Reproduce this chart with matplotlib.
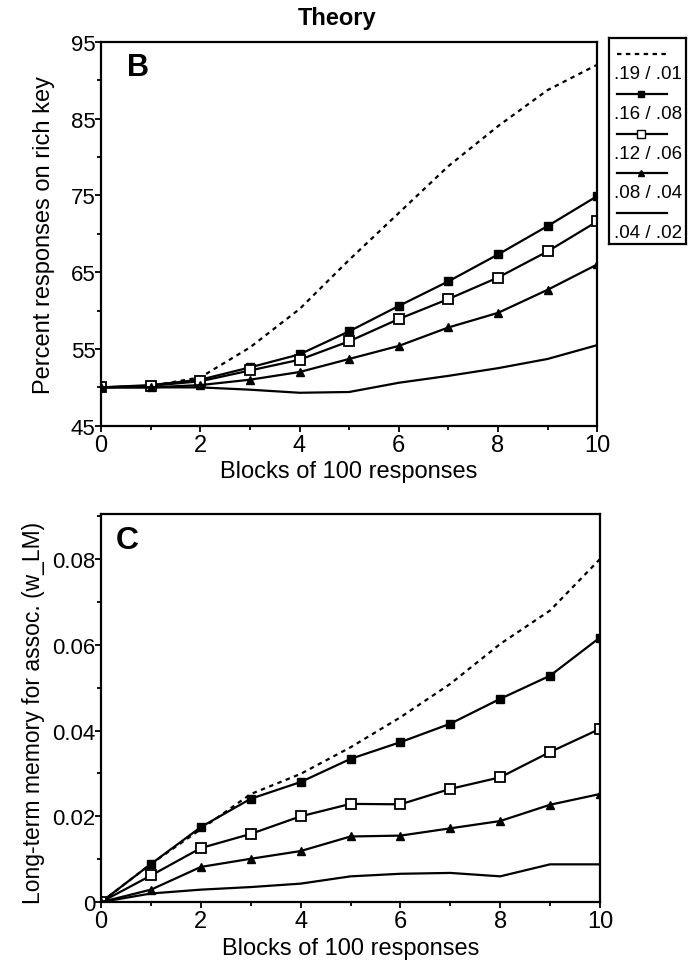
import numpy as np
from matplotlib import pyplot as plt
from matplotlib.ticker import MultipleLocator

plt.rcParams['font.family'] = ['Liberation Sans Narrow', 'Liberation Sans', 'DejaVu Sans']

blocks = np.arange(11)
labels = ['.19 / .01', '.16 / .08', '.12 / .06', '.08 / .04', '.04 / .02']

# panel B: percent responses on rich key
pct_19 = [50, 50.2, 51.3, 55.2, 60.2, 66.6, 72.7, 78.8, 84.0, 88.7, 92.0]
pct_16 = [50, 50.3, 51.0, 52.6, 54.3, 57.3, 60.6, 63.8, 67.3, 71.0, 74.9]
pct_12 = [50, 50.2, 50.8, 52.2, 53.6, 56.0, 58.9, 61.5, 64.3, 67.7, 71.6]
pct_08 = [50, 50.0, 50.3, 51.0, 52.0, 53.7, 55.4, 57.8, 59.7, 62.7, 66.0]
pct_04 = [50, 50.0, 50.0, 49.7, 49.3, 49.4, 50.6, 51.5, 52.5, 53.7, 55.5]
pct_ticks = [45, 55, 65, 75, 85, 95]

# panel C: long-term memory weight
wlm_19 = [0, 0.0089, 0.0170, 0.0252, 0.0299, 0.0361, 0.0431, 0.0509, 0.0602, 0.0680, 0.0800]
wlm_16 = [0, 0.0089, 0.0175, 0.0241, 0.0280, 0.0334, 0.0373, 0.0416, 0.0474, 0.0528, 0.0617]
wlm_12 = [0, 0.0062, 0.0126, 0.0159, 0.0200, 0.0229, 0.0228, 0.0264, 0.0291, 0.0350, 0.0404]
wlm_08 = [0, 0.0029, 0.0082, 0.0101, 0.0119, 0.0153, 0.0155, 0.0172, 0.0189, 0.0227, 0.0252]
wlm_04 = [0, 0.0020, 0.0029, 0.0035, 0.0043, 0.0060, 0.0066, 0.0068, 0.0060, 0.0088, 0.0088]
wlm_ticks = [0, 0.02, 0.04, 0.06, 0.08]
wlm_ticklabels = ['0', '0.02', '0.04', '0.06', '0.08']

styles = [
    dict(ls=(0, (2, 2)), marker=None),
    dict(ls='-', marker='s', mfc='black', ms=6),
    dict(ls='-', marker='s', mfc='white', ms=7, mew=1.3),
    dict(ls='-', marker='^', mfc='black', ms=6),
    dict(ls='-', marker=None),
]

fig = plt.figure(figsize=(6.88, 9.70), dpi=100)
axB = fig.add_axes([0.147, 0.560, 0.721, 0.396])
axC = fig.add_axes([0.147, 0.069, 0.725, 0.400])


def draw(ax, series):
    for ys, st in zip(series, styles):
        ax.plot(blocks, ys, color='black', lw=1.6, mec='black', **st)
    ax.set_xlim(0, 10)
    ax.xaxis.set_major_locator(MultipleLocator(2))
    ax.xaxis.set_minor_locator(MultipleLocator(1))
    ax.tick_params(which='both', direction='out', width=1.3, labelsize=16)
    ax.tick_params(axis='x', pad=2, labelsize=17)
    ax.tick_params(axis='y', pad=0)
    ax.tick_params(which='major', length=4)
    ax.tick_params(which='minor', length=3)
    for sp in ax.spines.values():
        sp.set_linewidth(1.6)
    ax.set_xlabel('Blocks of 100 responses', fontsize=17, labelpad=3)


draw(axB, [pct_19, pct_16, pct_12, pct_08, pct_04])
axB.set_ylim(45, 95)
axB.set_yticks(pct_ticks)
axB.yaxis.set_minor_locator(MultipleLocator(5))
axB.set_ylabel('Percent responses on rich key', fontsize=17)
axB.yaxis.set_label_coords(-0.093, 0.5)
axB.text(0.052, 0.934, 'B', transform=axB.transAxes, fontsize=22, fontweight='bold', va='center')
fig.text(337 / 688, 1 - 19 / 970, 'Theory', fontsize=17, fontweight='bold', ha='center', va='center')

draw(axC, [wlm_19, wlm_16, wlm_12, wlm_08, wlm_04])
axC.set_ylim(0, 0.0905)
axC.yaxis.set_minor_locator(MultipleLocator(0.01))
axC.set_yticks(wlm_ticks)
axC.set_yticklabels(wlm_ticklabels)
axC.set_ylabel('Long-term memory for assoc. (w_LM)', fontsize=16.5)
axC.yaxis.set_label_coords(-0.112, 0.49)
axC.text(0.03, 0.934, 'C', transform=axC.transAxes, fontsize=23, fontweight='bold', va='center')

# legend box: line sample above each label
axL = fig.add_axes([0.885, 0.747, 0.112, 0.213])
axL.set_xlim(0, 1)
axL.set_ylim(0, 1)
axL.set_xticks([])
axL.set_yticks([])
for sp in axL.spines.values():
    sp.set_linewidth(1.6)
for i, (lab, st) in enumerate(zip(labels, styles)):
    y_line = 0.92 - i * 0.192
    axL.plot([0.1, 0.75], [y_line, y_line], color='black', lw=1.6, ls=st['ls'])
    if st['marker']:
        axL.plot([0.42], [y_line], color='black', marker=st['marker'],
                 mfc=st['mfc'], mec='black', ms=st['ms'] - 1)
    axL.text(0.06, y_line - 0.095, lab, fontsize=13.5, va='center', ha='left')

fig.savefig('out.png', dpi=100)
